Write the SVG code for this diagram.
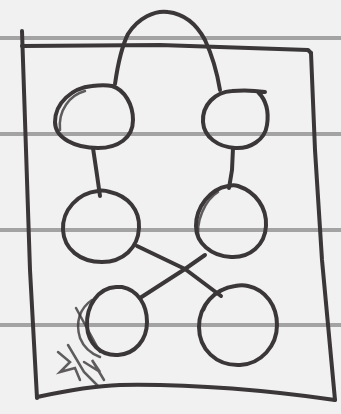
<svg xmlns="http://www.w3.org/2000/svg" width="341" height="414" viewBox="0 0 341 414">
<style>
.paper{fill:#f1f1f1}
.rule{stroke:#a3a3a3;stroke-width:4;fill:none}
.ink{stroke:#3b3739;stroke-width:4;fill:none;stroke-linecap:round;stroke-linejoin:round}
.thin{stroke:#3b3739;stroke-width:2.5;fill:none;stroke-linecap:round;opacity:0.8}
</style>
<rect class="paper" x="0" y="0" width="341" height="414"/>
<g id="rules">
<line class="rule" x1="0" y1="38" x2="341" y2="38"/>
<line class="rule" x1="0" y1="134" x2="341" y2="134"/>
<line class="rule" x1="0" y1="230" x2="341" y2="230"/>
<line class="rule" x1="0" y1="325" x2="341" y2="325"/>
</g>
<g id="frame">
<path class="ink" d="M22,31 L26,150 L30,270 L37,398"/>
<path class="ink" d="M22,46 L160,45 L308,50 L311,53"/>
<path class="ink" d="M311,53 L315,150 L322,260 L335,400"/>
<path class="ink" d="M37,397 C60,392 90,386 120,385 C180,384 250,388 335,400"/>
</g>
<g id="connectors">
<path class="ink" d="M115,84 C117,70 120,50 128,34 C138,18 155,10 168,12 C185,14 197,25 205,40 C212,55 217,72 220,90"/>
<path class="ink" d="M93,148 L97,175 L100,196"/>
<path class="ink" d="M233,148 L232,170 L229,188"/>
<path class="ink" d="M137,246 L185,269 L221,296"/>
<path class="ink" d="M205,255 L185,269 L140,298"/>
</g>
<g id="node-top-left">
<path class="ink" d="M112,86 C125,90 133,105 133,120 C133,138 118,148 98,148 C75,148 55,138 55,122 C55,103 72,88 92,86 C100,85 107,85 112,86"/>
<path class="thin" d="M60,130 C58,110 70,95 85,91"/>
</g>
<g id="node-top-right">
<path class="ink" d="M258,92 C266,100 269,112 267,125 C265,140 250,149 235,148 C218,147 204,137 203,122 C202,105 215,92 232,91 C242,90 252,90 265,92"/>
</g>
<g id="node-mid-left">
<path class="ink" d="M110,192 C128,196 140,210 139,228 C138,248 123,262 102,262 C80,262 64,249 63,230 C62,210 78,193 98,191 C102,190 107,191 110,192"/>
</g>
<g id="node-mid-right">
<path class="ink" d="M238,186 C256,192 267,208 266,226 C265,245 250,258 231,257 C211,256 196,243 196,226 C196,207 210,189 228,186 C232,185 235,185 238,186"/>
<path class="thin" d="M199,240 C195,222 205,200 218,192"/>
</g>
<g id="node-bottom-left">
<path class="ink" d="M122,287 C138,290 147,305 147,322 C147,340 135,354 118,355 C100,356 88,343 87,326 C86,306 98,288 116,287 C118,287 120,287 122,287"/>
<path class="thin" d="M92,300 C80,308 75,322 80,338 C84,348 92,354 100,357"/>
</g>
<g id="node-bottom-right">
<path class="ink" d="M248,286 C266,290 277,306 277,325 C277,346 261,364 240,365 C216,366 199,349 199,327 C199,305 215,289 235,286 C240,285 244,285 248,286"/>
<path class="thin" d="M204,310 C208,298 218,290 228,288"/>
</g>
<g id="scribble">
<path class="thin" d="M76,308 L88,330 L100,352"/>
<path class="thin" d="M58,352 L70,362 L60,372 L75,368 L80,380"/>
<path class="thin" d="M68,345 L84,372 L98,386"/>
<path class="thin" d="M84,362 L100,372 L92,360 L104,380"/>
</g>
</svg>
